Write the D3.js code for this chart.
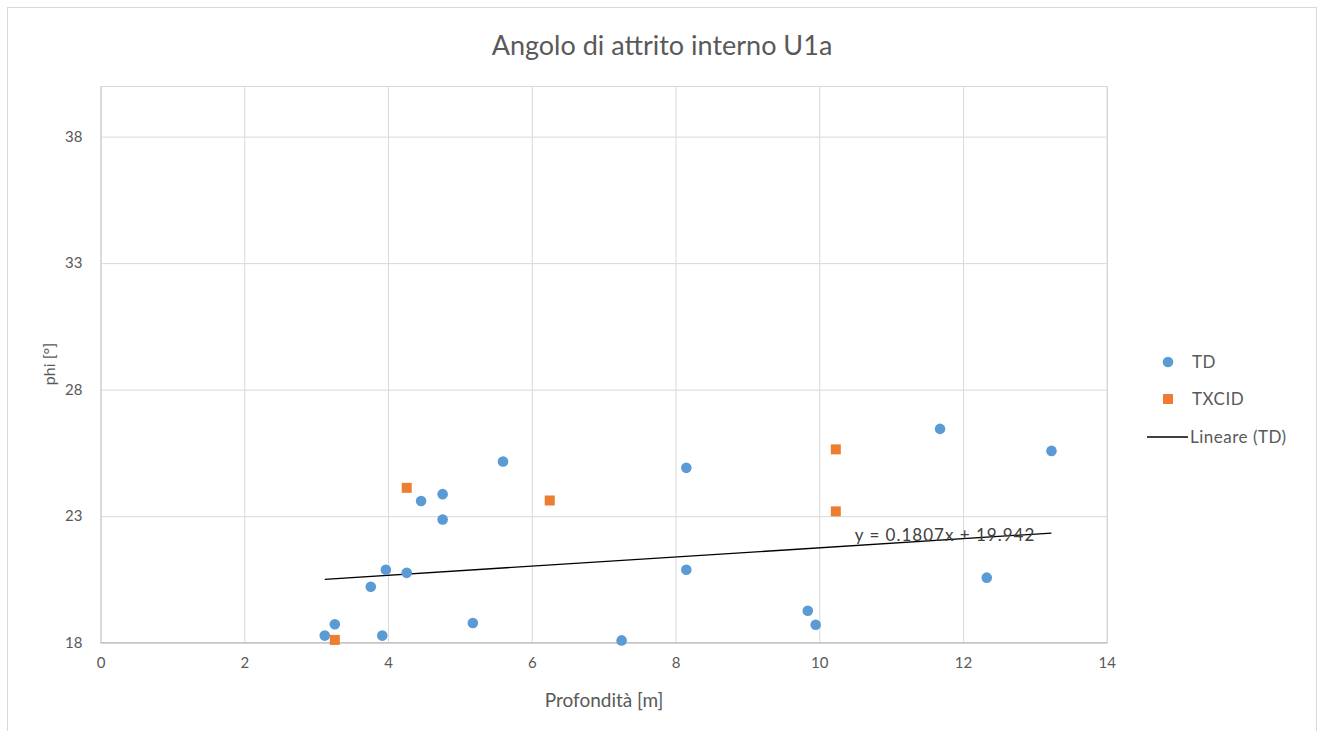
<!DOCTYPE html>
<html>
<head>
<meta charset="utf-8">
<script src="https://cdn.jsdelivr.net/npm/d3@7"></script>
<style>
  html, body { margin: 0; padding: 0; background: #fff; }
  svg { display: block; }
  text { font-family: Lato, "Open Sans", sans-serif; }
</style>
</head>
<body>
<svg id="chart" width="1325" height="731"></svg>
<script>
// ---- Data ----
const tdDepth = [3.12, 3.26, 3.76, 3.92, 3.97, 4.26, 4.46, 4.76, 4.76, 5.18, 5.60, 7.25, 8.15, 8.15, 9.84, 9.95, 11.68, 12.33, 13.23];
const tdPhi   = [18.28, 18.73, 20.21, 18.28, 20.88, 20.76, 23.60, 23.87, 22.87, 18.78, 25.16, 18.09, 24.91, 20.88, 19.26, 18.71, 26.45, 20.57, 25.58];
const txDepth = [3.26, 4.26, 6.25, 10.23, 10.23];
const txPhi   = [18.11, 24.12, 23.62, 25.64, 23.19];
const trendSlope = 0.1807;
const trendIntercept = 19.942;
const xTicks = [0, 2, 4, 6, 8, 10, 12, 14];
const yTicks = [18, 23, 28, 33, 38];
const seriesNames = ["TD", "TXCID", "Lineare (TD)"];
const titleText = "Angolo di attrito interno U1a";
const xTitle = "Profondità [m]";
const yTitle = "phi [°]";
const eqText = "y = 0.1807x + 19.942";

// ---- Layout ----
const svg = d3.select("#chart");
const plot = { left: 100.5, right: 1106.8, top: 86, bottom: 642.7 };
const x = d3.scaleLinear().domain([0, 14]).range([plot.left, plot.right]);
const y = d3.scaleLinear().domain([18, 40]).range([plot.bottom, plot.top]);

const blue = "#5b9bd5", orange = "#ed7d31", textCol = "#595959", grid = "#d9d9d9";

// outer border
svg.append("rect").attr("x", 7.5).attr("y", 7.5).attr("width", 1309).attr("height", 740)
  .attr("fill", "#fff").attr("stroke", "#d9d9d9").attr("stroke-width", 1);

// title
svg.append("text").attr("x", 662).attr("y", 55).attr("text-anchor", "middle")
  .attr("font-size", 27).attr("fill", textCol).text(titleText);

// gridlines + axes
const gx = svg.append("g").attr("transform", `translate(0,${plot.bottom})`)
  .call(d3.axisBottom(x).tickValues(xTicks).tickSize(-(plot.bottom - plot.top)).tickPadding(15).tickFormat(d3.format("d")));
gx.select(".domain").attr("stroke", "#bfbfbf");
gx.selectAll(".tick line").attr("stroke", grid);
gx.selectAll(".tick text").attr("fill", textCol).attr("font-size", 15).attr("font-family", "Lato, sans-serif");

const gy = svg.append("g").attr("transform", `translate(${plot.left},0)`)
  .call(d3.axisLeft(y).tickValues(yTicks).tickSize(-(plot.right - plot.left)).tickPadding(18).tickFormat(d3.format("d")));
gy.select(".domain").attr("stroke", grid);
gy.selectAll(".tick line").attr("stroke", grid);
gy.selectAll(".tick text").attr("fill", textCol).attr("font-size", 15).attr("font-family", "Lato, sans-serif");
svg.append("line").attr("x1", plot.left).attr("x2", plot.right).attr("y1", plot.bottom).attr("y2", plot.bottom)
  .attr("stroke", "#bfbfbf");

// axis titles
svg.append("text").attr("x", 604).attr("y", 707).attr("text-anchor", "middle")
  .attr("font-size", 19).attr("fill", textCol).text(xTitle);
svg.append("text").attr("transform", "translate(55,364) rotate(-90)").attr("text-anchor", "middle")
  .attr("font-size", 16).attr("fill", textCol).text(yTitle);

// trendline
const xmin = d3.min(tdDepth), xmax = d3.max(tdDepth);
svg.append("line")
  .attr("x1", x(xmin)).attr("y1", y(trendSlope * xmin + trendIntercept))
  .attr("x2", x(xmax)).attr("y2", y(trendSlope * xmax + trendIntercept))
  .attr("stroke", "#000").attr("stroke-width", 1.3);

// TD points
svg.append("g").selectAll("circle").data(tdDepth.map((d, i) => [d, tdPhi[i]])).join("circle")
  .attr("cx", d => x(d[0])).attr("cy", d => y(d[1])).attr("r", 5.3).attr("fill", blue);

// TXCID points
const s = 10;
svg.append("g").selectAll("rect").data(txDepth.map((d, i) => [d, txPhi[i]])).join("rect")
  .attr("x", d => x(d[0]) - s / 2).attr("y", d => y(d[1]) - s / 2).attr("width", s).attr("height", s).attr("fill", orange);

// equation label
svg.append("text").attr("x", 945).attr("y", 541).attr("text-anchor", "middle")
  .attr("font-family", "'Open Sans', sans-serif").attr("letter-spacing", 1)
  .attr("font-size", 17).attr("fill", "#404040").text(eqText);

// legend
const lg = svg.append("g").attr("font-family", "'Open Sans', sans-serif").attr("letter-spacing", 0.5);
lg.append("circle").attr("cx", 1168).attr("cy", 362).attr("r", 5.3).attr("fill", blue);
lg.append("text").attr("x", 1192).attr("y", 368).attr("font-size", 17).attr("fill", textCol).text(seriesNames[0]);
lg.append("rect").attr("x", 1163).attr("y", 394).attr("width", s).attr("height", s).attr("fill", orange);
lg.append("text").attr("x", 1192).attr("y", 405).attr("font-size", 17).attr("fill", textCol).text(seriesNames[1]);
lg.append("line").attr("x1", 1147).attr("x2", 1188).attr("y1", 437).attr("y2", 437).attr("stroke", "#000").attr("stroke-width", 1.3);
lg.append("text").attr("x", 1190).attr("y", 443).attr("font-size", 17).attr("fill", textCol).text(seriesNames[2]);
</script>
</body>
</html>
